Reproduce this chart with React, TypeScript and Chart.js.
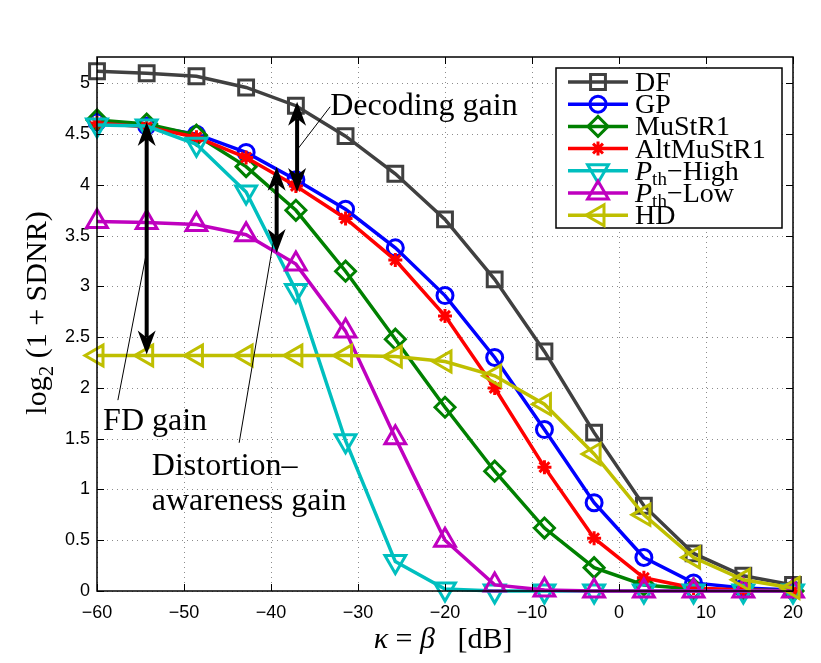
import React, { useEffect, useRef } from "react";
import { Chart, registerables } from "chart.js";
import { drawPoint } from "chart.js/helpers";

Chart.register(...registerables);

// ---------- data ----------
const xValues = [-60, -54.29, -48.57, -42.86, -37.14, -31.43, -25.71, -20, -14.29, -8.57, -2.86, 2.86, 8.57, 14.29, 20];
const dfValues = [5.12, 5.1, 5.07, 4.96, 4.78, 4.48, 4.11, 3.66, 3.07, 2.36, 1.56, 0.84, 0.37, 0.15, 0.06];
const gpValues = [4.62, 4.58, 4.5, 4.32, 4.05, 3.76, 3.38, 2.91, 2.3, 1.59, 0.87, 0.33, 0.08, 0.03, 0.01];
const mustr1Values = [4.64, 4.6, 4.49, 4.18, 3.75, 3.15, 2.48, 1.81, 1.18, 0.62, 0.23, 0.06, 0.02, 0.01, 0.0];
const altMustr1Values = [4.61, 4.57, 4.47, 4.27, 3.99, 3.67, 3.26, 2.71, 2.0, 1.22, 0.52, 0.13, 0.03, 0.01, 0.0];
const pthHighValues = [4.59, 4.58, 4.4, 3.93, 2.96, 1.48, 0.29, 0.02, 0, 0, 0, 0, 0, 0, 0];
const pthLowValues = [3.64, 3.63, 3.61, 3.51, 3.22, 2.56, 1.51, 0.5, 0.06, 0.01, 0, 0, 0, 0, 0];
const hdValues = [2.32, 2.32, 2.32, 2.32, 2.32, 2.32, 2.31, 2.26, 2.12, 1.84, 1.35, 0.75, 0.33, 0.11, 0.03];

const xTicks = [-60, -50, -40, -30, -20, -10, 0, 10, 20];
const yTicks = [0, 0.5, 1, 1.5, 2, 2.5, 3, 3.5, 4, 4.5, 5];

// annotations (data coordinates)
const arrowX = [-54.29, -39.35, -37.0];
const arrowTop = [4.62, 4.18, 4.82];
const arrowBottom = [2.33, 3.33, 3.93];

// ---------- styles ----------
const SERIF = '"Liberation Serif", "Times New Roman", serif';
const SANS = '"Liberation Sans", Arial, sans-serif';

type SeriesStyle = {
  name: string;
  values: number[];
  color: string;
  pointStyle: string;
  radius: number;
  rotation: number;
};

const series: SeriesStyle[] = [
  { name: "DF", values: dfValues, color: "#404040", pointStyle: "rect", radius: 10.5, rotation: 0 },
  { name: "GP", values: gpValues, color: "#0000ff", pointStyle: "circle", radius: 8, rotation: 0 },
  { name: "MuStR1", values: mustr1Values, color: "#008000", pointStyle: "rectRot", radius: 10, rotation: 0 },
  { name: "AltMuStR1", values: altMustr1Values, color: "#ff0000", pointStyle: "star", radius: 7, rotation: 0 },
  { name: "Pth-High", values: pthHighValues, color: "#00bfbf", pointStyle: "triangle", radius: 12, rotation: 180 },
  { name: "Pth-Low", values: pthLowValues, color: "#bf00bf", pointStyle: "triangle", radius: 12, rotation: 0 },
  { name: "HD", values: hdValues, color: "#bfbf00", pointStyle: "triangle", radius: 12, rotation: 270 },
];

type Seg = { t: string; font: string; dy?: number };

function drawSegs(ctx: CanvasRenderingContext2D, segs: Seg[], x: number, y: number, align: "left" | "center") {
  let total = 0;
  for (const s of segs) {
    ctx.font = s.font;
    total += ctx.measureText(s.t).width;
  }
  let cx = align === "center" ? x - total / 2 : x;
  ctx.textAlign = "left";
  ctx.textBaseline = "alphabetic";
  for (const s of segs) {
    ctx.font = s.font;
    ctx.fillText(s.t, cx, y + (s.dy || 0));
    cx += ctx.measureText(s.t).width;
  }
}

function legendLabel(name: string): Seg[] {
  const f = `28px ${SERIF}`;
  if (name === "Pth-High" || name === "Pth-Low") {
    return [
      { t: "P", font: `italic 28px ${SERIF}` },
      { t: "th", font: `19px ${SERIF}`, dy: 5 },
      { t: name === "Pth-High" ? "\u2212High" : "\u2212Low", font: f },
    ];
  }
  return [{ t: name, font: f }];
}

function doubleArrow(ctx: CanvasRenderingContext2D, x: number, yTop: number, yBot: number) {
  const hl = 24, hw = 9, notch = 17;
  ctx.strokeStyle = "#000";
  ctx.fillStyle = "#000";
  ctx.lineWidth = 4;
  ctx.beginPath();
  ctx.moveTo(x, yTop + notch);
  ctx.lineTo(x, yBot - notch);
  ctx.stroke();
  ctx.beginPath();
  ctx.moveTo(x, yTop);
  ctx.lineTo(x + hw, yTop + hl);
  ctx.lineTo(x, yTop + notch);
  ctx.lineTo(x - hw, yTop + hl);
  ctx.closePath();
  ctx.fill();
  ctx.beginPath();
  ctx.moveTo(x, yBot);
  ctx.lineTo(x + hw, yBot - hl);
  ctx.lineTo(x, yBot - notch);
  ctx.lineTo(x - hw, yBot - hl);
  ctx.closePath();
  ctx.fill();
}

const overlayPlugin = {
  id: "overlay",
  beforeDatasetsDraw(chart: any) {
    const { ctx, chartArea: a, scales } = chart;
    const x = scales.x, y = scales.y;
    ctx.save();
    ctx.strokeStyle = "#8c8c8c";
    ctx.lineWidth = 1;
    ctx.setLineDash([1, 4]);
    for (const t of xTicks) {
      const px = Math.round(x.getPixelForValue(t)) + 0.5;
      ctx.beginPath();
      ctx.moveTo(px, a.top);
      ctx.lineTo(px, a.bottom);
      ctx.stroke();
    }
    for (const t of yTicks) {
      const py = Math.round(y.getPixelForValue(t)) + 0.5;
      ctx.beginPath();
      ctx.moveTo(a.left, py);
      ctx.lineTo(a.right, py);
      ctx.stroke();
    }
    ctx.restore();
  },
  afterDatasetsDraw(chart: any) {
    const { ctx, chartArea: a, scales } = chart;
    const x = scales.x, y = scales.y;
    ctx.save();
    // box
    ctx.strokeStyle = "#000";
    ctx.lineWidth = 1.5;
    ctx.strokeRect(a.left, a.top, a.right - a.left, a.bottom - a.top);
    // inward ticks
    const tl = 7;
    ctx.lineWidth = 1;
    for (const t of xTicks) {
      const px = Math.round(x.getPixelForValue(t)) + 0.5;
      ctx.beginPath();
      ctx.moveTo(px, a.bottom);
      ctx.lineTo(px, a.bottom - tl);
      ctx.moveTo(px, a.top);
      ctx.lineTo(px, a.top + tl);
      ctx.stroke();
    }
    for (const t of yTicks) {
      const py = Math.round(y.getPixelForValue(t)) + 0.5;
      ctx.beginPath();
      ctx.moveTo(a.left, py);
      ctx.lineTo(a.left + tl, py);
      ctx.moveTo(a.right, py);
      ctx.lineTo(a.right - tl, py);
      ctx.stroke();
    }

    // leader lines
    ctx.lineWidth = 1;
    ctx.strokeStyle = "#000";
    const leaders: [number, number, number, number][] = [
      [-33.2, 4.77, -36.87, 4.36],
      [-57.6, 1.88, -54.25, 3.36],
      [-43.66, 1.46, -39.75, 3.43],
    ];
    for (const [x1, y1, x2, y2] of leaders) {
      ctx.beginPath();
      ctx.moveTo(x.getPixelForValue(x1), y.getPixelForValue(y1));
      ctx.lineTo(x.getPixelForValue(x2), y.getPixelForValue(y2));
      ctx.stroke();
    }
    // arrows
    for (let i = 0; i < arrowX.length; i++) {
      doubleArrow(ctx, x.getPixelForValue(arrowX[i]), y.getPixelForValue(arrowTop[i]), y.getPixelForValue(arrowBottom[i]));
    }
    // annotation text
    ctx.fillStyle = "#000";
    const af = `32px ${SERIF}`;
    drawSegs(ctx, [{ t: "Decoding gain", font: af }], x.getPixelForValue(-33.2), y.getPixelForValue(4.69), "left");
    drawSegs(ctx, [{ t: "FD gain", font: af }], x.getPixelForValue(-59.3), y.getPixelForValue(1.59), "left");
    drawSegs(ctx, [{ t: "Distortion\u2013", font: af }], x.getPixelForValue(-53.7), y.getPixelForValue(1.14), "left");
    drawSegs(ctx, [{ t: "awareness gain", font: af }], x.getPixelForValue(-53.7), y.getPixelForValue(0.8), "left");

    // legend
    const bw = 226, bh = 160;
    const bx = a.right - 11 - bw;
    const by = a.top + 11;
    ctx.fillStyle = "#fff";
    ctx.fillRect(bx, by, bw, bh);
    ctx.strokeStyle = "#000";
    ctx.lineWidth = 1.5;
    ctx.strokeRect(bx, by, bw, bh);
    const rowH = 22.2;
    series.forEach((s, i) => {
      const ry = by + 14 + i * rowH;
      ctx.strokeStyle = s.color;
      ctx.lineWidth = 3.5;
      ctx.beginPath();
      ctx.moveTo(bx + 12, ry);
      ctx.lineTo(bx + 72, ry);
      ctx.stroke();
      ctx.fillStyle = "rgba(0,0,0,0)";
      ctx.strokeStyle = s.color;
      ctx.lineWidth = 3;
      drawPoint(ctx, { pointStyle: s.pointStyle as any, rotation: s.rotation, radius: s.radius, borderWidth: 3 } as any, bx + 42, ry);
      ctx.fillStyle = "#000";
      drawSegs(ctx, legendLabel(s.name), bx + 79, ry + 9, "left");
    });

    ctx.restore();
  },
  afterDraw(chart: any) {
    const { ctx, chartArea: a } = chart;
    ctx.save();
    ctx.fillStyle = "#000";
    // y-axis title
    ctx.translate(46, (a.top + a.bottom) / 2 - 11);
    ctx.rotate(-Math.PI / 2);
    drawSegs(
      ctx,
      [
        { t: "log", font: `30px ${SERIF}` },
        { t: "2", font: `21px ${SERIF}`, dy: 7 },
        { t: " (1 + SDNR)", font: `30px ${SERIF}` },
      ],
      0,
      0,
      "center"
    );
    ctx.restore();
    ctx.save();
    ctx.fillStyle = "#000";
    drawSegs(
      ctx,
      [
        { t: "\u03BA", font: `italic 30px ${SERIF}` },
        { t: " = ", font: `30px ${SERIF}` },
        { t: "\u03B2", font: `italic 30px ${SERIF}` },
        { t: "   [dB]", font: `30px ${SERIF}` },
      ],
      443,
      648,
      "center"
    );
    ctx.restore();
  },
};

export default function App() {
  const canvasRef = useRef<HTMLCanvasElement | null>(null);

  useEffect(() => {
    const canvas = canvasRef.current;
    if (!canvas) return;
    const datasets = series.map((s, i) => ({
      label: s.name,
      data: xValues.map((xv, j) => ({ x: xv, y: s.values[j] })),
      borderColor: s.color,
      backgroundColor: "rgba(0,0,0,0)",
      borderWidth: 3.5,
      pointStyle: s.pointStyle as any,
      pointRadius: s.radius,
      pointRotation: s.rotation,
      pointBorderColor: s.color,
      pointBackgroundColor: "rgba(0,0,0,0)",
      pointBorderWidth: 3,
      tension: 0,
      clip: false as any,
      order: series.length - 1 - i,
    }));
    const chart = new Chart(canvas, {
      type: "line",
      data: { datasets },
      options: {
        responsive: false,
        animation: false,
        devicePixelRatio: 1,
        events: [],
        layout: { padding: { left: 0, top: 57, right: 28, bottom: 0 } },
        plugins: { legend: { display: false }, tooltip: { enabled: false }, title: { display: false } },
        scales: {
          x: {
            type: "linear",
            min: -60,
            max: 20,
            grid: { display: false, drawTicks: false },
            border: { display: false },
            afterBuildTicks: (scale: any) => {
              scale.ticks = xTicks.map((v) => ({ value: v }));
            },
            afterFit: (scale: any) => {
              scale.height = 72;
            },
            ticks: {
              color: "#000",
              font: { family: SANS, size: 18 },
              padding: 11,
              maxRotation: 0,
              autoSkip: false,
              callback: (v: any) => String(v).replace("-", "\u2212"),
            },
          },
          y: {
            type: "linear",
            min: 0,
            max: 5.26,
            grid: { display: false, drawTicks: false },
            border: { display: false },
            afterBuildTicks: (scale: any) => {
              scale.ticks = yTicks.map((v) => ({ value: v }));
            },
            afterFit: (scale: any) => {
              scale.width = 97;
            },
            ticks: {
              color: "#000",
              font: { family: SANS, size: 18 },
              padding: 7,
              autoSkip: false,
              callback: (v: any) => String(v),
            },
          },
        },
      },
      plugins: [overlayPlugin],
    } as any);
    return () => chart.destroy();
  }, []);

  return (
    <div style={{ position: "absolute", left: 0, top: 0, width: 821, height: 663, background: "#fff" }}>
      <canvas ref={canvasRef} width={821} height={663} style={{ display: "block", width: 821, height: 663 }} />
    </div>
  );
}
